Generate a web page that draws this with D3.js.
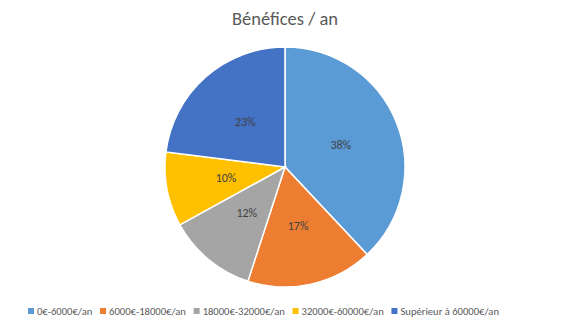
<!DOCTYPE html>
<html>
<head>
<meta charset="utf-8">
<script src="https://cdn.jsdelivr.net/npm/d3@7"></script>
<style>
  body { margin: 0; background: #fff; }
  text { font-family: Carlito, "Liberation Sans", Arial, sans-serif; }
</style>
</head>
<body>
<div id="chart"></div>
<script>
// données du graphique
const categories = ['0€-6000€/an', '6000€-18000€/an', '18000€-32000€/an', '32000€-60000€/an', 'Supérieur à 60000€/an'];
const valeurs = [38, 17, 12, 10, 23];
const couleurs = ['#5B9BD5', '#ED7D31', '#A5A5A5', '#FFC000', '#4472C4'];
const titre = 'Bénéfices / an';

const W = 570, H = 327;
const cx = 285, cy = 167, R = 120;

const svg = d3.select('#chart').append('svg')
  .attr('width', W).attr('height', H);

// titre
svg.append('text')
  .attr('x', 285).attr('y', 25)
  .attr('text-anchor', 'middle')
  .attr('font-size', 18.5)
  .attr('fill', '#595959')
  .text(titre);

const data = categories.map((c, i) => ({ cat: c, val: valeurs[i], col: couleurs[i] }));

const pie = d3.pie().sort(null).value(d => d.val);
const arc = d3.arc().innerRadius(0).outerRadius(R);
const arcLabel = d3.arc().innerRadius(R * 0.5).outerRadius(R * 0.5);

const g = svg.append('g').attr('transform', `translate(${cx},${cy})`);
const arcs = pie(data);

g.selectAll('path').data(arcs).enter().append('path')
  .attr('d', arc)
  .attr('fill', d => d.data.col)
  .attr('stroke', '#fff')
  .attr('stroke-width', 1.5);

const total = d3.sum(valeurs);
g.selectAll('.lbl').data(arcs).enter().append('text')
  .attr('class', 'lbl')
  .attr('transform', d => `translate(${arcLabel.centroid(d)})`)
  .attr('text-anchor', 'middle')
  .attr('dy', '0.35em')
  .attr('font-size', 12)
  .attr('fill', '#404040')
  .text(d => Math.round(d.data.val / total * 100) + '%');

// légende
const leg = svg.append('g').attr('transform', 'translate(0,314)');
const items = leg.selectAll('g').data(data).enter().append('g');
items.append('rect')
  .attr('width', 6).attr('height', 6).attr('y', -6)
  .attr('fill', d => d.col);
items.append('text')
  .attr('x', 9).attr('y', 0)
  .attr('dy', '0.1em')
  .attr('font-size', 10.6)
  .attr('fill', '#595959')
  .text(d => d.cat);

// placement des entrées entre x=28 et x=499
const x0 = 28, x1 = 499;
const widths = items.nodes().map(n => n.getBBox().width);
const gap = ((x1 - x0) - d3.sum(widths)) / (widths.length - 1);
let xPos = x0;
items.each(function (d, i) {
  d3.select(this).attr('transform', `translate(${xPos},0)`);
  xPos += widths[i] + gap;
});
</script>
</body>
</html>
